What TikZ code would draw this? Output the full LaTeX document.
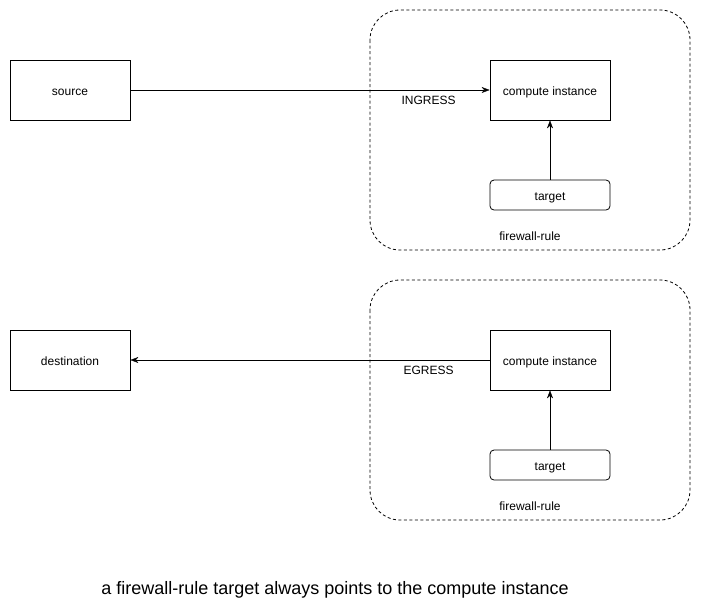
\documentclass[tikz,border=0pt]{standalone}
\usepackage{fontspec}
\setmainfont{Liberation Sans}
\usetikzlibrary{arrows.meta}
\tikzset{
 box/.style={draw,thick,minimum width=120pt,minimum height=60pt,inner sep=0pt,text height=12pt,text depth=2pt,font=\fontsize{12}{14}\selectfont},
 tgtbox/.style={box,minimum height=30pt,rounded corners=4pt},
 rulezone/.style={draw,thick,dash pattern=on 3pt off 2.5pt,rounded corners=30pt},
 lbl/.style={font=\fontsize{12}{14}\selectfont,inner sep=0pt},
}
\begin{document}
\begin{tikzpicture}[x=1pt,y=-1pt,>={Stealth[length=8pt,width=6pt]}]
 \useasboundingbox (0,0) rectangle (701,611);
 % ingress
 \draw[rulezone] (370,10) rectangle (690,250);
 \node[box] (src) at (70,90) {source};
 \node[box] (ci1) at (550,90) {compute instance};
 \node[tgtbox] (tg1) at (550,195) {target};
 \node[lbl] (fw1) at (530,236) {firewall-rule};
 \draw[->] (src) -- (ci1) node[lbl,pos=0.83,below=6pt] {INGRESS};
 \draw[->] (tg1) -- (ci1);
 % egress
 \draw[rulezone] (370,280) rectangle (690,520);
 \node[box] (dst) at (70,360) {destination};
 \node[box] (ci2) at (550,360) {compute instance};
 \node[tgtbox] (tg2) at (550,465) {target};
 \node[lbl] (fw2) at (530,506) {firewall-rule};
 \draw[->] (ci2) -- (dst) node[lbl,pos=0.17,below=6pt] {EGRESS};
 \draw[->] (tg2) -- (ci2);
 \node[font=\fontsize{18}{22}\selectfont] (cap) at (335,590) {a firewall-rule target always points to the compute instance};
\end{tikzpicture}
\end{document}
